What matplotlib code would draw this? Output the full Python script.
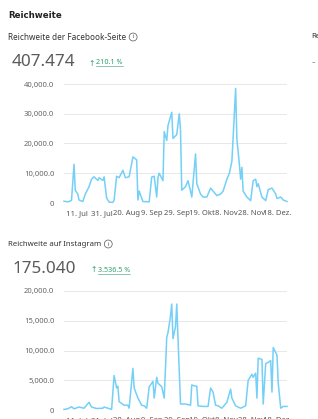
import matplotlib
matplotlib.use("Agg")
import matplotlib.pyplot as plt
import numpy as np
import pandas as pd

plt.rcParams['font.family'] = ['Noto Sans', 'DejaVu Sans']

start_date = "2020-07-01"

fb_days = [0, 3, 4, 6, 8, 9, 11, 12, 15, 17, 20, 22, 24, 27, 28, 31, 32, 34, 36, 39,
           40, 42, 44, 47, 49, 52, 55, 58, 59, 60, 63, 68, 70, 72, 74, 75, 76, 79, 80, 82,
           83, 86, 87, 90, 92, 93, 94, 97, 99, 101, 102, 105, 106, 109, 111, 114, 117, 119,
           122, 125, 127, 130, 132, 134, 135, 137, 138, 140, 141, 142, 143, 146, 149, 151,
           153, 154, 155, 158, 161, 163, 166, 169, 170, 173, 175, 178]
fb_values = [600, 400, 500, 900, 13000, 4300, 3000, 1000, 500, 3000, 5500, 8000, 8800, 7600,
             8500, 7600, 8800, 1700, 300, 200, 1000, 9000, 8500, 11000, 8500, 8800, 15500,
             14500, 1000, 4000, 500, 400, 8700, 9000, 2000, 8500, 10000, 7500, 24000, 21000,
             26000, 30500, 21700, 23000, 30000, 24500, 4300, 5500, 7500, 4000, 2000, 16500,
             6500, 3000, 2000, 2000, 5000, 4000, 2500, 3000, 4000, 8000, 10000, 14000, 22000,
             38500, 21500, 13000, 8000, 12000, 4000, 2000, 800, 7500, 8000, 5500, 6500, 2000,
             800, 4500, 5000, 3000, 1500, 2000, 1000, 500]

ig_days = [0, 3, 6, 8, 12, 16, 20, 22, 26, 31, 32, 35, 38, 40, 42, 43, 44, 48, 51, 52, 55,
           56, 59, 62, 64, 66, 68, 71, 72, 74, 75, 78, 80, 82, 83, 85, 86, 87, 89, 90, 91,
           93, 97, 101, 102, 105, 106, 107, 111, 115, 117, 119, 121, 123, 126, 130, 133, 134,
           137, 141, 145, 147, 150, 151, 153, 154, 155, 158, 159, 161, 163, 165, 166, 167,
           170, 171, 173, 175, 178]
ig_values = [100, 200, 550, 200, 500, 300, 1300, 500, 250, 300, 500, 300, 100, 5800, 3700,
             4000, 1400, 800, 800, 300, 7000, 3700, 2000, 800, 700, 300, 3900, 4800, 2000,
             5500, 4500, 3900, 2000, 12200, 13000, 15800, 17800, 12000, 14000, 17800, 12000,
             1000, 1000, 800, 4200, 4000, 4000, 700, 600, 600, 3700, 3000, 800, 700, 300,
             1300, 3500, 2000, 700, 300, 700, 5000, 6000, 5500, 6200, 2000, 8700, 8500, 1000,
             7800, 8000, 8300, 3000, 10500, 9200, 4500, 300, 600, 600]

tick_dates = ["2020-07-11", "2020-07-31", "2020-08-20", "2020-09-09", "2020-09-29",
              "2020-10-19", "2020-11-08", "2020-11-28", "2020-12-18"]
tick_labels = ["11. Jul", "31. Jul", "20. Aug", "9. Sep", "29. Sep", "19. Okt",
               "8. Nov", "28. Nov", "18. Dez."]

fb_yticks = [0, 10000, 20000, 30000, 40000]
fb_ylabels = ["0", "10,000.0", "20,000.0", "30,000.0", "40,000.0"]
ig_yticks = [0, 5000, 10000, 15000, 20000]
ig_ylabels = ["0", "5,000.0", "10,000.0", "15,000.0", "20,000.0"]

W, H = 318, 419
fig = plt.figure(figsize=(W / 100, H / 100), dpi=100)
fig.patch.set_facecolor("white")

def fx(px):
    return px / W

def fy(py):
    return 1 - py / H

line_color = "#74d0f7"
grid_color = "#e8e8e8"
label_color = "#666666"
green = "#2e9e6e"

def make_axes(bottom_px, top_px, days, values, yticks, ylabels, ymax):
    ax = fig.add_axes([fx(64), fy(bottom_px), fx(287) - fx(64), (bottom_px - top_px) / H])
    dates = pd.to_datetime(start_date) + pd.to_timedelta(days, unit="D")
    ax.plot(dates, values, color=line_color, lw=1.1, clip_on=False, solid_joinstyle="round")
    ax.set_ylim(0, ymax)
    ax.set_xlim(pd.to_datetime(start_date), pd.to_datetime(start_date) + pd.Timedelta(days=178))
    ax.set_yticks(yticks)
    ax.set_yticklabels(ylabels, fontsize=5.5, color=label_color)
    ax.set_xticks(pd.to_datetime(tick_dates))
    ax.set_xticklabels(tick_labels, fontsize=5.5, color="#555555")
    ax.tick_params(axis="both", length=0)
    ax.tick_params(axis="y", pad=7)
    ax.tick_params(axis="x", pad=5)
    for s in ax.spines.values():
        s.set_visible(False)
    ax.grid(axis="y", color=grid_color, lw=0.7)
    ax.grid(axis="x", visible=False)
    ax.set_axisbelow(True)
    ax.set_facecolor("none")
    return ax

make_axes(203, 84, fb_days, fb_values, fb_yticks, fb_ylabels, 40000)
make_axes(410, 291, ig_days, ig_values, ig_yticks, ig_ylabels, 20000)

# Header texts
fig.text(fx(8), fy(15), "Reichweite", fontsize=6.2, fontweight="bold", color="#222222",
         va="center", family=["DejaVu Sans"])

def card_title(y, txt, size, num, pct, pct_x):
    t = fig.text(fx(8), fy(y), txt, fontsize=size, color="#333333", va="center")
    fig.canvas.draw()
    bb = t.get_window_extent()
    fig.text(bb.x1 / W + fx(7), fy(y), "i", fontsize=4.2, color="#444444", va="center", ha="center",
             bbox=dict(boxstyle="circle,pad=0.25", fc="none", ec="#555555", lw=0.5))
    fig.text(fx(12), fy(y + 25), num, fontsize=12.3, color="#5a5a5a", va="center")
    fig.text(fx(pct_x), fy(y + 26), "↑", fontsize=5.5, color=green, va="center",
             family=["DejaVu Sans"])
    p = fig.text(fx(pct_x + 8), fy(y + 26), pct, fontsize=5.2, color=green, va="center")
    fig.canvas.draw()
    pb = p.get_window_extent()
    fig.add_artist(plt.Line2D([pb.x0 / W, pb.x1 / W], [fy(y + 29.5), fy(y + 29.5)],
                              color=green, lw=0.4))

card_title(37, "Reichweite der Facebook-Seite", 5.9, "407.474", "210.1 %", 88)
card_title(244, "Reichweite auf Instagram", 5.6, "175.040", "3.536.5 %", 90)

fig.text(fx(311), fy(37), "Re", fontsize=5.6, color="#333333", va="center")
fig.text(fx(312), fy(63), "-", fontsize=8, color="#888888", va="center")

fig.savefig("out.png", dpi=100, facecolor="white")
